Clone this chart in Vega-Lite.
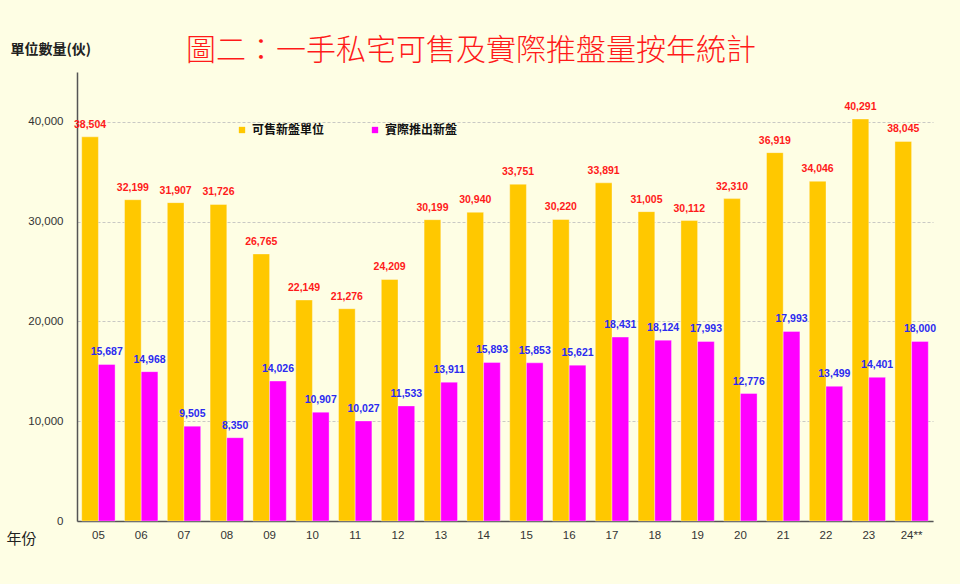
{
  "$schema": "https://vega.github.io/schema/vega-lite/v6.json",
  "width": 856,
  "height": 449,
  "autosize": {"type": "none"},
  "padding": {"left": 77, "top": 72, "right": 27, "bottom": 63},
  "background": "#FEFEE4",
  "title": {
    "text": "圖二：一手私宅可售及實際推盤量按年統計",
    "anchor": "start",
    "frame": "group",
    "dx": 109,
    "dy": 36,
    "offset": 12,
    "font": "Noto Sans CJK TC",
    "fontSize": 30,
    "fontWeight": 300,
    "color": "#FF1A1A"
  },
  "config": {
    "view": {"stroke": null},
    "font": "Liberation Sans"
  },
  "data": {
    "values": [
      {"year": "05", "series": "可售新盤單位", "value": 38504, "label": "38,504"},
      {"year": "06", "series": "可售新盤單位", "value": 32199, "label": "32,199"},
      {"year": "07", "series": "可售新盤單位", "value": 31907, "label": "31,907"},
      {"year": "08", "series": "可售新盤單位", "value": 31726, "label": "31,726"},
      {"year": "09", "series": "可售新盤單位", "value": 26765, "label": "26,765"},
      {"year": "10", "series": "可售新盤單位", "value": 22149, "label": "22,149"},
      {"year": "11", "series": "可售新盤單位", "value": 21276, "label": "21,276"},
      {"year": "12", "series": "可售新盤單位", "value": 24209, "label": "24,209"},
      {"year": "13", "series": "可售新盤單位", "value": 30199, "label": "30,199"},
      {"year": "14", "series": "可售新盤單位", "value": 30940, "label": "30,940"},
      {"year": "15", "series": "可售新盤單位", "value": 33751, "label": "33,751"},
      {"year": "16", "series": "可售新盤單位", "value": 30220, "label": "30,220"},
      {"year": "17", "series": "可售新盤單位", "value": 33891, "label": "33,891"},
      {"year": "18", "series": "可售新盤單位", "value": 31005, "label": "31,005"},
      {"year": "19", "series": "可售新盤單位", "value": 30112, "label": "30,112"},
      {"year": "20", "series": "可售新盤單位", "value": 32310, "label": "32,310"},
      {"year": "21", "series": "可售新盤單位", "value": 36919, "label": "36,919"},
      {"year": "22", "series": "可售新盤單位", "value": 34046, "label": "34,046"},
      {"year": "23", "series": "可售新盤單位", "value": 40291, "label": "40,291"},
      {"year": "24**", "series": "可售新盤單位", "value": 38045, "label": "38,045"},
      {"year": "05", "series": "實際推出新盤", "value": 15687, "label": "15,687"},
      {"year": "06", "series": "實際推出新盤", "value": 14968, "label": "14,968"},
      {"year": "07", "series": "實際推出新盤", "value": 9505, "label": "9,505"},
      {"year": "08", "series": "實際推出新盤", "value": 8350, "label": "8,350"},
      {"year": "09", "series": "實際推出新盤", "value": 14026, "label": "14,026"},
      {"year": "10", "series": "實際推出新盤", "value": 10907, "label": "10,907"},
      {"year": "11", "series": "實際推出新盤", "value": 10027, "label": "10,027"},
      {"year": "12", "series": "實際推出新盤", "value": 11533, "label": "11,533"},
      {"year": "13", "series": "實際推出新盤", "value": 13911, "label": "13,911"},
      {"year": "14", "series": "實際推出新盤", "value": 15893, "label": "15,893"},
      {"year": "15", "series": "實際推出新盤", "value": 15853, "label": "15,853"},
      {"year": "16", "series": "實際推出新盤", "value": 15621, "label": "15,621"},
      {"year": "17", "series": "實際推出新盤", "value": 18431, "label": "18,431"},
      {"year": "18", "series": "實際推出新盤", "value": 18124, "label": "18,124"},
      {"year": "19", "series": "實際推出新盤", "value": 17993, "label": "17,993"},
      {"year": "20", "series": "實際推出新盤", "value": 12776, "label": "12,776"},
      {"year": "21", "series": "實際推出新盤", "value": 19000, "label": "17,993"},
      {"year": "22", "series": "實際推出新盤", "value": 13499, "label": "13,499"},
      {"year": "23", "series": "實際推出新盤", "value": 14401, "label": "14,401"},
      {"year": "24**", "series": "實際推出新盤", "value": 18000, "label": "18,000"}
    ]
  },
  "encoding": {
    "x": {
      "field": "year",
      "type": "nominal",
      "sort": null,
      "scale": {"paddingInner": 0.22, "paddingOuter": 0.11},
      "axis": {
        "title": "年份",
        "titleFont": "Noto Sans CJK TC",
        "titleFontSize": 15,
        "titleFontWeight": "normal",
        "titleColor": "#222222",
        "titleAngle": 0,
        "titleAlign": "left",
        "titleBaseline": "middle",
        "titleX": -71,
        "titleY": 17,
        "labelAngle": 0,
        "labelFontSize": 11.5,
        "labelColor": "#333333",
        "labelPadding": 8,
        "ticks": false,
        "domainColor": "#555555",
        "domainWidth": 1.5,
        "grid": false
      }
    },
    "xOffset": {"field": "series", "type": "nominal", "sort": ["可售新盤單位", "實際推出新盤"], "scale": {"paddingInner": 0, "paddingOuter": 0}},
    "y": {
      "field": "value",
      "type": "quantitative",
      "scale": {"domain": [0, 45000], "nice": false},
      "axis": {
        "values": [0, 10000, 20000, 30000, 40000],
        "format": ",d",
        "title": "單位數量(伙)",
        "titleFont": "Noto Sans CJK TC",
        "titleFontSize": 14,
        "titleFontWeight": "bold",
        "titleColor": "#222222",
        "titleAngle": 0,
        "titleAlign": "left",
        "titleBaseline": "middle",
        "titleX": -67,
        "titleY": -23,
        "labelFontSize": 11.5,
        "labelColor": "#333333",
        "labelPadding": 14,
        "ticks": false,
        "domainColor": "#555555",
        "domainWidth": 1.5,
        "grid": true,
        "gridColor": "#BBBBBB",
        "gridDash": [3, 2],
        "gridWidth": 0.8
      }
    }
  },
  "layer": [
    {
      "mark": {"type": "bar", "stroke": "#FFFFFF", "strokeWidth": 0.5, "strokeOpacity": 0.7},
      "encoding": {
        "color": {
          "field": "series",
          "type": "nominal",
          "sort": ["可售新盤單位", "實際推出新盤"],
          "scale": {"domain": ["可售新盤單位", "實際推出新盤"], "range": ["#FFC800", "#FF00FF"]},
          "legend": {
            "title": null,
            "orient": "none",
            "legendX": 159,
            "legendY": 52,
            "direction": "horizontal",
            "symbolType": "square",
            "symbolSize": 40,
            "symbolStrokeWidth": 0,
            "labelFont": "Noto Sans CJK TC",
            "labelFontSize": 12,
            "labelFontWeight": "bold",
            "labelColor": "#111111",
            "labelOffset": 4,
            "columnPadding": 44
          }
        }
      }
    },
    {
      "mark": {"type": "text", "baseline": "bottom", "dy": -7, "fontWeight": "bold", "fontSize": 10.5},
      "encoding": {
        "text": {"field": "label", "type": "nominal"},
        "color": {
          "field": "series",
          "type": "nominal",
          "scale": {"domain": ["可售新盤單位", "實際推出新盤"], "range": ["#FF1A1A", "#2B2BF0"]},
          "legend": null
        }
      }
    }
  ],
  "resolve": {"scale": {"color": "independent"}}
}
